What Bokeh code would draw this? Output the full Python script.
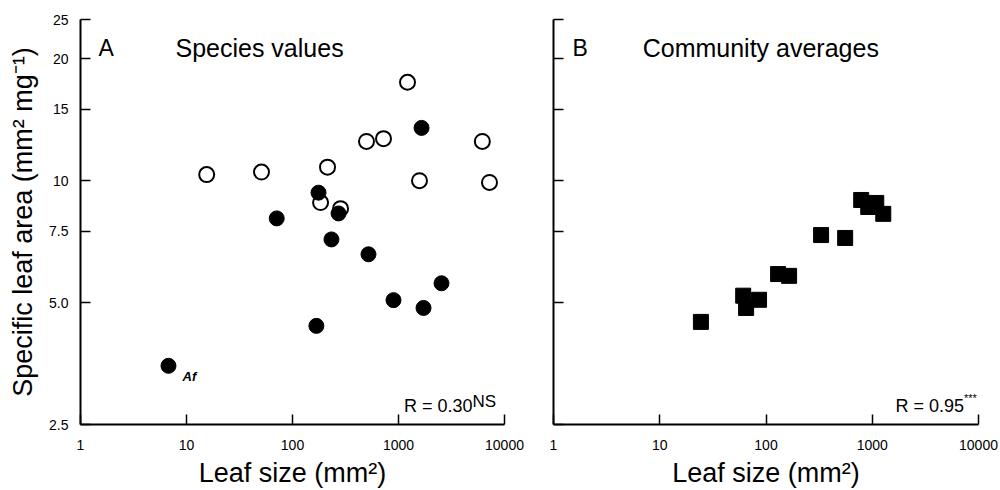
from bokeh.plotting import figure
from bokeh.models import FixedTicker, Label, Range1d
from bokeh.layouts import row
from bokeh.embed import file_html
from bokeh.resources import INLINE

FONT = "Liberation Sans"

# ---- data ----
x_ticks = [1, 10, 100, 1000, 10000]
x_tick_labels = ["1", "10", "100", "1000", "10000"]
y_ticks = [2.5, 5, 7.5, 10, 15, 20, 25]
y_tick_labels = ["2.5", "5.0", "7.5", "10", "15", "20", "25"]

# Panel A: species values
open_x = [15.5, 51, 214, 184, 284, 499, 722, 1216, 1578, 6180, 7220]
open_y = [10.35, 10.5, 10.8, 8.83, 8.53, 12.5, 12.7, 17.5, 10.0, 12.5, 9.9]
filled_x = [1650, 176, 71, 272, 233, 521, 2545, 897, 1722, 168, 6.76]
filled_y = [13.5, 9.34, 8.07, 8.3, 7.16, 6.58, 5.58, 5.07, 4.85, 4.38, 3.49]

# Panel B: community averages
comm_x = [787, 917, 1091, 1270, 330, 556, 130, 165, 61, 65, 86, 24.4]
comm_y = [8.96, 8.61, 8.81, 8.28, 7.34, 7.22, 5.88, 5.82, 5.2, 4.85, 5.08, 4.48]


def make_fig(width, left, right, show_y):
    p = figure(width=width, height=490, x_axis_type="log", y_axis_type="log",
               x_range=Range1d(1, 10000), y_range=Range1d(2.5, 25),
               output_backend="svg", toolbar_location=None,
               min_border_left=left, min_border_right=right,
               min_border_top=19, min_border_bottom=64)
    p.outline_line_color = None
    p.grid.visible = False
    p.background_fill_color = "white"
    p.border_fill_color = "white"
    for ax in (p.xaxis[0], p.yaxis[0]):
        ax.axis_line_width = 2
        ax.axis_line_color = "black"
        ax.major_tick_line_width = 1.5
        ax.major_tick_line_color = "black"
        ax.major_tick_in = 10
        ax.major_tick_out = 0
        ax.minor_tick_line_color = None
        ax.major_label_text_font = FONT
        ax.major_label_text_font_size = "14px"
        ax.major_label_text_color = "black"
        ax.axis_label_text_font = FONT
        ax.axis_label_text_font_style = "normal"
        ax.axis_label_text_color = "black"
        ax.axis_label_text_font_size = "27px"
    xa = p.xaxis[0]
    xa.ticker = FixedTicker(ticks=x_ticks)
    xa.major_label_overrides = {t: l for t, l in zip(x_ticks, x_tick_labels)}
    xa.major_label_standoff = 15
    xa.axis_label = "Leaf size (mm²)"
    xa.axis_label_standoff = 5
    ya = p.yaxis[0]
    ya.ticker = FixedTicker(ticks=y_ticks)
    if show_y:
        ya.major_label_overrides = {t: l for t, l in zip(y_ticks, y_tick_labels)}
        ya.major_label_standoff = 12
        ya.axis_label = "Specific leaf area (mm² mg⁻¹)"
        ya.axis_label_standoff = 8
    else:
        ya.major_label_overrides = {t: "" for t in y_ticks}
        ya.major_label_text_font_size = "0px"
        ya.major_label_standoff = 0
    return p


pA = make_fig(528, 80, 24, True)
pA.scatter(open_x, open_y, marker="circle", size=15, fill_color="white",
           line_color="black", line_width=2)
pA.scatter(filled_x, filled_y, marker="circle", size=15, fill_color="black",
           line_color="black", line_width=1)
pA.add_layout(Label(x=1.48, y=21.2, text="A", text_font=FONT, text_font_size="23px",
                    text_baseline="alphabetic", text_color="black"))
pA.add_layout(Label(x=7.87, y=21.2, text="Species values", text_font=FONT,
                    text_font_size="25px", text_baseline="alphabetic", text_color="black"))
pA.add_layout(Label(x=9.17, y=3.28, text="Af", text_font=FONT, text_font_size="13px",
                    text_font_style="bold italic", text_baseline="alphabetic", text_color="black"))
pA.add_layout(Label(x=4990, y=2.77, text="R = 0.30", text_font=FONT, text_font_size="18px",
                    text_align="right", text_baseline="alphabetic", text_color="black"))
pA.add_layout(Label(x=4990, y=2.85, text="NS", text_font=FONT, text_font_size="17px",
                    text_align="left", text_baseline="alphabetic", text_color="black"))

pB = make_fig(472, 25, 22, False)
pB.scatter(comm_x, comm_y, marker="square", size=15, fill_color="black",
           line_color="black", line_width=1)
pB.add_layout(Label(x=1.51, y=21.2, text="B", text_font=FONT, text_font_size="23px",
                    text_baseline="alphabetic", text_color="black"))
pB.add_layout(Label(x=6.91, y=21.2, text="Community averages", text_font=FONT,
                    text_font_size="25px", text_baseline="alphabetic", text_color="black"))
pB.add_layout(Label(x=7300, y=2.77, text="R = 0.95", text_font=FONT, text_font_size="18px",
                    text_align="right", text_baseline="alphabetic", text_color="black"))
pB.add_layout(Label(x=7300, y=2.91, text="***", text_font=FONT, text_font_size="11px",
                    text_align="left", text_baseline="alphabetic", text_color="black"))

layout = row(pA, pB)
open("out.html", "w").write(file_html(layout, INLINE))
